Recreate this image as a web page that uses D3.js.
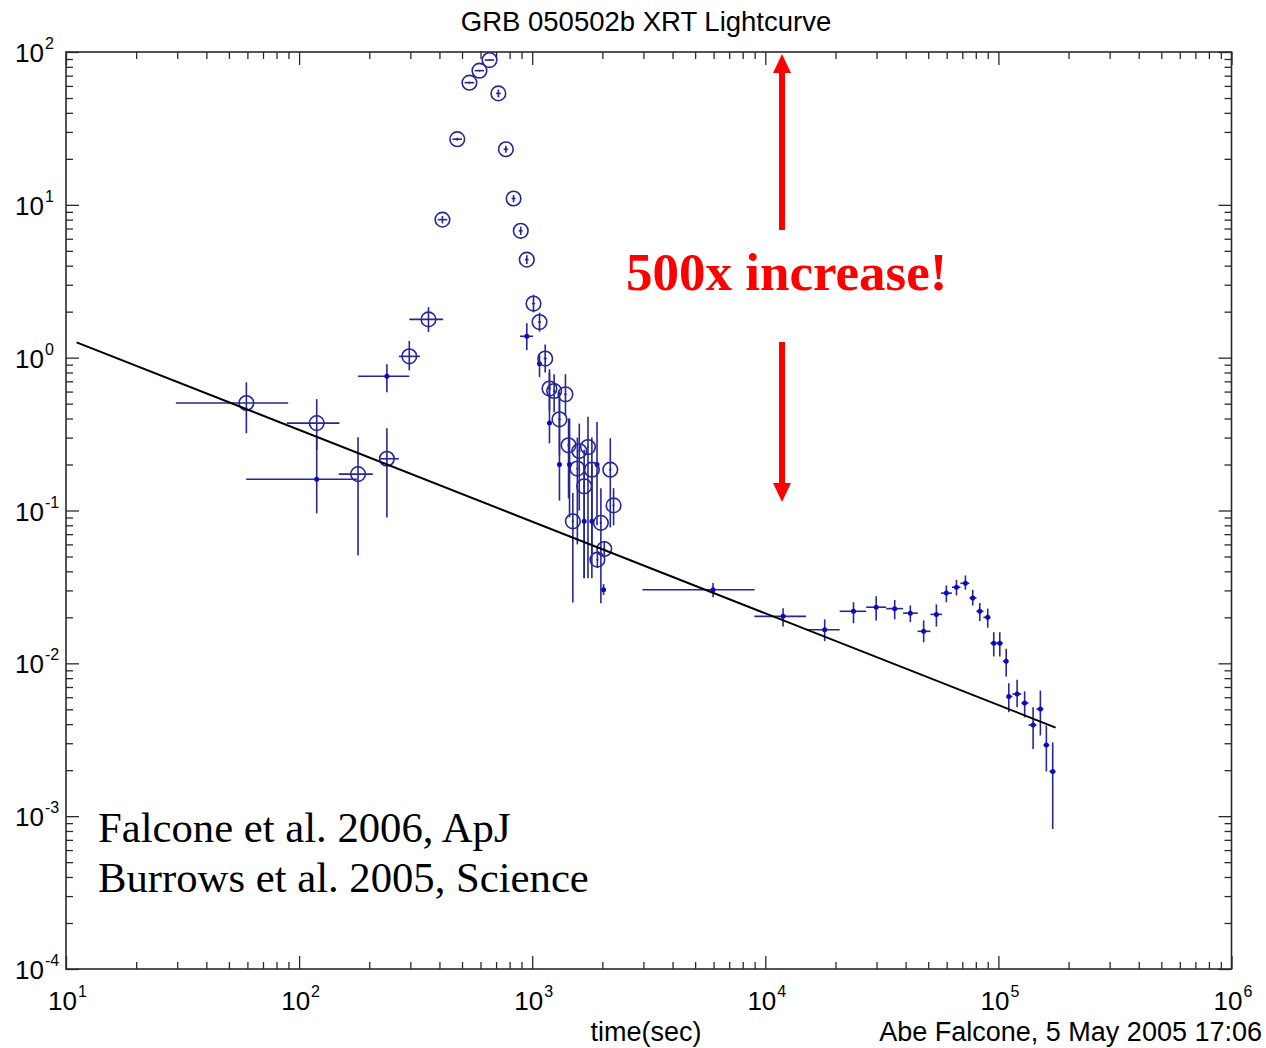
<!DOCTYPE html>
<html>
<head>
<meta charset="utf-8">
<script src="https://cdn.jsdelivr.net/npm/d3@7"></script>
<style>
  body { margin: 0; background: #fff; }
  svg { display: block; }
</style>
</head>
<body>
<svg id="chart" width="1266" height="1048"></svg>
<script>
// ---- Windowed-timing points (drawn with open circles) ----
const wtTime   = [59.4, 119, 179, 238, 297, 359, 412, 477, 538, 594, 656, 716, 771, 832, 893, 948, 1013, 1075,
                  1137, 1186, 1242, 1389, 1309, 1432, 1592, 1735, 1562, 1671, 1803, 2163, 2234, 1494, 1971, 2038, 1904];
const wtTimeLo = [29.6, 88.5, 148, 223, 268, 297, 393, 455, 513, 567, 626, 700, 754, 816, 876, 931, 997, 1060,
                  1120, 1170, 1228, 1372, 1293, 1415, 1575, 1718, 1545, 1655, 1786, 2140, 2212, 1478, 1950, 2018, 1885];
const wtTimeHi = [89.8, 149, 207, 268, 330, 415, 432, 500, 564, 622, 687, 733, 788, 848, 910, 965, 1029, 1090,
                  1155, 1202, 1256, 1406, 1325, 1449, 1609, 1752, 1579, 1687, 1820, 2186, 2256, 1510, 1992, 2058, 1923];
const wtFlux   = [0.505, 0.373, 0.173, 0.218, 1.02, 1.78, 8.0, 26.9, 63, 75.5, 88.6, 53.6, 23.1, 11.0, 6.76, 4.38, 2.26, 1.71,
                  0.987, 0.628, 0.605, 0.576, 0.395, 0.267, 0.245, 0.26, 0.188, 0.144, 0.185, 0.185, 0.108, 0.085, 0.083, 0.056, 0.0477];
const wtFluxLo = [0.320, 0.25, 0.0508, 0.090, 0.826, 1.47, 7.55, 26.3, 62, 74.5, 87.5, 50.5, 21.9, 10.4, 6.35, 4.1, 1.98, 1.48,
                  0.80, 0.45, 0.44, 0.42, 0.23, 0.12, 0.10, 0.036, 0.06, 0.036, 0.05, 0.0775, 0.08, 0.025, 0.0247, 0.050, 0.042];
const wtFluxHi = [0.690, 0.535, 0.301, 0.345, 1.285, 2.14, 8.45, 27.5, 64, 76.5, 89.7, 56.8, 24.4, 11.6, 7.2, 4.68, 2.58, 1.97,
                  1.22, 0.80, 0.78, 0.78, 0.60, 0.40, 0.37, 0.41, 0.30, 0.25, 0.30, 0.297, 0.14, 0.13, 0.14, 0.063, 0.054];

// ---- Photon-counting points (drawn with filled dots) ----
const pcTime   = [119, 238, 948, 1075, 1186, 1309, 1446, 1671, 1803, 1897, 2024,
                  5970, 11920, 17980, 23900, 29900, 35900, 41900, 47800, 54200, 59800, 66100, 72200, 77600,
                  83200, 90000, 95500, 101400, 108000, 110800, 120300, 129600, 140900, 151400, 160600, 171000];
const pcTimeLo = [59.3, 179, 887, 1050, 1175, 1295, 1430, 1660, 1790, 1880, 2010,
                  2972, 8980, 15100, 20850, 27100, 33000, 39000, 45000, 51100, 56700, 63200, 68700, 75100,
                  80500, 86300, 92500, 98600, 104500, 109300, 114800, 125500, 134600, 145600, 156000, 165500];
const pcTimeHi = [177, 297, 1009, 1100, 1197, 1323, 1462, 1682, 1816, 1914, 2038,
                  8995, 14960, 20850, 27100, 33000, 39000, 45100, 51100, 57300, 63200, 68700, 75100, 80500,
                  86300, 92500, 98600, 104500, 109300, 114800, 125500, 134600, 145600, 156000, 165500, 175800];
const pcFlux   = [0.16, 0.755, 1.38, 0.914, 0.373, 0.2, 0.2, 0.085, 0.085, 0.2, 0.0303,
                  0.0303, 0.0203, 0.0166, 0.0219, 0.0233, 0.0228, 0.0213, 0.0162, 0.0209, 0.0288, 0.0315, 0.0334, 0.0268,
                  0.0219, 0.0200, 0.01355, 0.01355, 0.01033, 0.00607, 0.0063, 0.0055, 0.00395, 0.00503, 0.00292, 0.00196];
const pcFluxLo = [0.0957, 0.593, 1.12, 0.745, 0.275, 0.116, 0.09, 0.036, 0.036, 0.08, 0.028,
                  0.0271, 0.0174, 0.01396, 0.0183, 0.0191, 0.0194, 0.0186, 0.01374, 0.0174, 0.0251, 0.0278, 0.0303, 0.0239,
                  0.0189, 0.0171, 0.0111, 0.0111, 0.0082, 0.00479, 0.00516, 0.00443, 0.00275, 0.00337, 0.00196, 0.000824];
const pcFluxHi = [0.30, 0.906, 1.68, 1.04, 0.84, 0.55, 0.40, 0.20, 0.20, 0.38, 0.033,
                  0.0335, 0.0229, 0.0194, 0.0251, 0.0275, 0.0260, 0.0239, 0.0191, 0.0243, 0.0323, 0.0352, 0.0376, 0.0303,
                  0.0248, 0.0228, 0.0160, 0.0160, 0.01245, 0.00741, 0.0078, 0.00656, 0.00516, 0.00664, 0.00392, 0.00304];

// ---- Underlying power-law decay (end points) ----
const fitTime = [11.1, 176000];
const fitFlux = [1.26, 0.0038];

// ---- Axis decades ----
const xMajorTicks = [1e1, 1e2, 1e3, 1e4, 1e5, 1e6];
const xExponents  = ["1", "2", "3", "4", "5", "6"];
const yMajorTicks = [1e-4, 1e-3, 1e-2, 1e-1, 1e0, 1e1, 1e2];
const yExponents  = ["-4", "-3", "-2", "-1", "0", "1", "2"];

const svg = d3.select("#chart");
const plotLeft = 66, plotRight = 1231.5, plotTop = 52, plotBottom = 969;

const x = d3.scaleLog().domain([1e1, 1e6]).range([plotLeft, plotRight]);
const y = d3.scaleLog().domain([1e-4, 1e2]).range([plotBottom, plotTop]);

const axisColor = "#2a2a2a";
const dataLine = "#262696";
const dataDot = "#0a0abf";

function minorsOf(majors) {
  const m = [];
  majors.slice(0, -1).forEach(v => { for (let k = 2; k < 10; k++) m.push(v * k); });
  return m;
}

// Inward ticks on all four sides
function tickAxis(axisFn, scale, values, size, transform) {
  const g = svg.append("g")
    .attr("transform", transform)
    .call(axisFn(scale).tickValues(values).tickSize(size).tickSizeOuter(0).tickFormat(""));
  g.select(".domain").remove();
  g.selectAll(".tick line").attr("stroke", axisColor).attr("stroke-width", 1.3);
}
const xMinor = minorsOf(xMajorTicks), yMinor = minorsOf(yMajorTicks);
[[xMajorTicks, 13], [xMinor, 7]].forEach(([v, s]) => {
  tickAxis(d3.axisTop, x, v, s, `translate(0,${plotBottom})`);
  tickAxis(d3.axisBottom, x, v, s, `translate(0,${plotTop})`);
});
[[yMajorTicks, 13], [yMinor, 7]].forEach(([v, s]) => {
  tickAxis(d3.axisRight, y, v, s, `translate(${plotLeft},0)`);
  tickAxis(d3.axisLeft, y, v, s, `translate(${plotRight},0)`);
});

svg.append("rect")
  .attr("x", plotLeft).attr("y", plotTop)
  .attr("width", plotRight - plotLeft).attr("height", plotBottom - plotTop)
  .attr("fill", "none").attr("stroke", axisColor).attr("stroke-width", 1.6);

// Decade labels as 10 with a raised exponent
const sans = "'Liberation Sans', Arial, sans-serif";
xMajorTicks.forEach((v, i) => {
  const cx = x(v) + 11;
  svg.append("text").attr("x", cx).attr("y", 1010)
    .attr("text-anchor", "end").attr("font-family", sans).attr("font-size", 26).attr("fill", "#000")
    .text("10");
  svg.append("text").attr("x", cx + 1).attr("y", 997)
    .attr("font-family", sans).attr("font-size", 16).attr("fill", "#000")
    .text(xExponents[i]);
});
yMajorTicks.forEach((v, i) => {
  const cy = y(v);
  svg.append("text").attr("x", 44).attr("y", cy + 10)
    .attr("text-anchor", "end").attr("font-family", sans).attr("font-size", 26).attr("fill", "#000")
    .text("10");
  svg.append("text").attr("x", 45).attr("y", cy - 3)
    .attr("font-family", sans).attr("font-size", 16).attr("fill", "#000")
    .text(yExponents[i]);
});

// Titles
svg.append("text").attr("x", 646).attr("y", 31).attr("text-anchor", "middle")
  .attr("font-family", sans).attr("font-size", 27.5).attr("fill", "#000")
  .text("GRB 050502b XRT Lightcurve");
svg.append("text").attr("x", 646).attr("y", 1041).attr("text-anchor", "middle")
  .attr("font-family", sans).attr("font-size", 27).attr("fill", "#000")
  .text("time(sec)");
svg.append("text").attr("x", 1262).attr("y", 1041).attr("text-anchor", "end")
  .attr("font-family", sans).attr("font-size", 27).attr("fill", "#000")
  .text("Abe Falcone, 5 May 2005 17:06");

// Data points with error bars
function series(time, tLo, tHi, flux, fLo, fHi) {
  return time.map((t, i) => ({ t, tLo: tLo[i], tHi: tHi[i], f: flux[i], fLo: fLo[i], fHi: fHi[i] }));
}
const wt = series(wtTime, wtTimeLo, wtTimeHi, wtFlux, wtFluxLo, wtFluxHi);
const pc = series(pcTime, pcTimeLo, pcTimeHi, pcFlux, pcFluxLo, pcFluxHi);

function errorBars(data, cls) {
  const g = svg.append("g").attr("class", cls)
    .attr("stroke", dataLine).attr("stroke-width", 1.6).attr("fill", "none");
  g.selectAll("line.h").data(data).join("line").attr("class", "h")
    .attr("x1", d => x(d.tLo)).attr("x2", d => x(d.tHi))
    .attr("y1", d => y(d.f)).attr("y2", d => y(d.f));
  g.selectAll("line.v").data(data).join("line").attr("class", "v")
    .attr("x1", d => x(d.t)).attr("x2", d => x(d.t))
    .attr("y1", d => y(d.fLo)).attr("y2", d => y(d.fHi));
}
errorBars(pc, "pc-err");
errorBars(wt, "wt-err");

svg.append("g").selectAll("circle").data(pc).join("circle")
  .attr("cx", d => x(d.t)).attr("cy", d => y(d.f)).attr("r", 2.5)
  .attr("fill", dataDot);

svg.append("g").selectAll("circle").data(wt).join("circle")
  .attr("cx", d => x(d.t)).attr("cy", d => y(d.f)).attr("r", 7.3)
  .attr("fill", "none").attr("stroke", dataLine).attr("stroke-width", 1.6);

// Power-law decay line
svg.append("line")
  .attr("x1", x(fitTime[0])).attr("y1", y(fitFlux[0]))
  .attr("x2", x(fitTime[1])).attr("y2", y(fitFlux[1]))
  .attr("stroke", "#000").attr("stroke-width", 2);

// Flare amplitude annotation
const red = "#ff0000";
const arrowX = 782;
svg.append("rect").attr("x", arrowX - 3).attr("y", 70).attr("width", 6).attr("height", 160).attr("fill", red);
svg.append("path").attr("d", `M${arrowX},54 L${arrowX - 9},73 L${arrowX + 9},73 Z`).attr("fill", red);
svg.append("rect").attr("x", arrowX - 3).attr("y", 342).attr("width", 6).attr("height", 144).attr("fill", red);
svg.append("path").attr("d", `M${arrowX},502 L${arrowX - 9},483 L${arrowX + 9},483 Z`).attr("fill", red);

const serif = "'Liberation Serif', 'Times New Roman', serif";
svg.append("text").attr("x", 626).attr("y", 290)
  .attr("font-family", serif).attr("font-weight", "bold").attr("font-size", 53).attr("fill", red)
  .text("500x increase!");

svg.append("text").attr("x", 98).attr("y", 842)
  .attr("font-family", serif).attr("font-size", 42.7).attr("fill", "#000")
  .text("Falcone et al. 2006, ApJ");
svg.append("text").attr("x", 98).attr("y", 892)
  .attr("font-family", serif).attr("font-size", 42.7).attr("fill", "#000")
  .text("Burrows et al. 2005, Science");
</script>
</body>
</html>
